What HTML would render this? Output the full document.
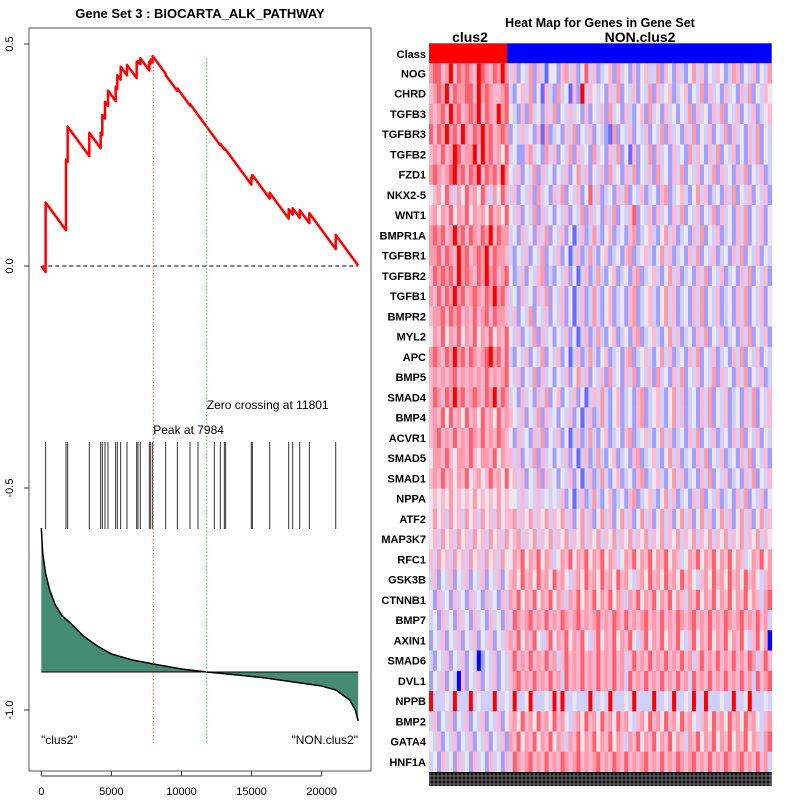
<!DOCTYPE html>
<html><head><meta charset="utf-8"><style>
html,body{margin:0;padding:0;background:#fff;}
svg{display:block;font-family:"Liberation Sans",sans-serif;}
</style></head><body>
<svg id="chart" width="800" height="800" viewBox="0 0 800 800">
<rect x="0" y="0" width="800" height="800" fill="#fff"/>
<text x="200" y="18" text-anchor="middle" font-size="13" font-weight="bold">Gene Set  3 : BIOCARTA_ALK_PATHWAY</text>
<text x="600" y="27" text-anchor="middle" font-size="12.5" font-weight="bold">Heat Map for Genes in Gene Set</text>
<text x="470" y="42" text-anchor="middle" font-size="14" font-weight="bold">clus2</text>
<text x="640" y="42" text-anchor="middle" font-size="14" font-weight="bold">NON.clus2</text>
<g id="left"></g>
<g id="heat"></g>
</svg>
<script>
// ---- enrichment data ----
const hitRanks=[309,1760,1879,3424,4233,4352,4542,4756,5303,5422,5660,6112,6801,6896,7063,7705,7800,7943,8870,9703,10606,11177,12342,12771,13056,13151,14982,15054,16290,17646,17931,18430,19120,20999];
const esAfter=[0.143,0.24,0.314,0.30,0.30,0.34,0.37,0.395,0.404,0.43,0.449,0.453,0.46,0.462,0.468,0.46,0.465,0.473,0.43,0.40,0.365,0.34,0.29,0.275,0.265,0.262,0.20,0.205,0.165,0.128,0.13,0.126,0.119,0.07];
const metricRanks=[0,100,300,600,1000,1500,2000,3000,4000,5000,6500,8000,10000,11801,14000,16000,18000,20000,21000,22000,22400,22600];
const metricVals=[1.44,1.19,0.99,0.82,0.67,0.56,0.50,0.36,0.26,0.18,0.12,0.08,0.03,0,-0.03,-0.06,-0.10,-0.14,-0.18,-0.28,-0.38,-0.49];
const xTicks=[0,5000,10000,15000,20000];
const yTicks=[0.5,0.0,-0.5,-1.0];
const yTickLabels=["0.5","0.0","-0.5","-1.0"];
const peakRank=7984, zeroRank=11801, nGenes=22600, descent=4.3e-5;
// ---- heatmap data ----
const genes=["NOG","CHRD","TGFB3","TGFBR3","TGFB2","FZD1","NKX2-5","WNT1","BMPR1A","TGFBR1","TGFBR2","TGFB1","BMPR2","MYL2","APC","BMP5","SMAD4","BMP4","ACVR1","SMAD5","SMAD1","NPPA","ATF2","MAP3K7","RFC1","GSK3B","CTNNB1","BMP7","AXIN1","SMAD6","DVL1","NPPB","BMP2","GATA4","HNF1A"];
const nClus=20;
const rows=[
"6775685767 6587657686 35243625314 42563524735 23452634252 45336254253 24635243542 36524352436",
"5676857667 7586765567 32453624153 26341528354 34253624352 43625345234 52436253425 34253624354",
"6567586756 7685765867 43252634253 62435342524 35263425324 52634253424 36253425362 43524352345",
"7576867586 5768675676 24353425162 34253624352 43216243524 35243625342 53624352436 25342536243",
"5657568756 6858675647 34225634263 52436253426 34253624152 43625342534 26354253624 35242536243",
"6765678675 7685767586 43524362534 24352463524 35263425362 43526342536 24352436253 42536243523",
"4564753647 5647536475 35243526342 53624352473 52342536243 52342562345 32463523425 36243524352",
"5646574657 4656475647 43524362534 24352436253 42536243572 43525342536 24352436253 42536243524",
"6767568675 7657685766 34253425362 43524135236 32452342562 34532463523 42536243523 42536243524",
"6675765867 5676857665 32435243624 35241352363 24523425623 45324635234 25362435234 25362435243",
"5767675867 6576867567 42352435623 24352413523 63245234256 23453246352 34253624352 34253624352",
"6575768675 6765768675 34253425362 43524135236 32452342562 34532463523 42536243523 42536243524",
"5667576756 5756757665 35243624352 43524135236 32452342562 34532463523 42536243523 42536243524",
"4657465746 5746574657 43524362534 24352413523 63245234256 23453246352 34253624352 34253624352",
"6765768675 7656786757 32435243624 35241352363 24523425623 45324635234 25362435234 25362435243",
"5656567565 6565756567 43524362534 24352463524 35263425362 43526342536 24352436253 42536243523",
"5765768675 6765768576 34253425362 45243524135 36324523425 62345324635 23425362435 23425362435",
"5657475647 5647564756 54352436253 42435241352 36324523425 62345324635 23425362435 23425362435",
"5675657565 7657565765 42534253624 35241352363 24523425623 45324635234 25362435234 25362435243",
"4665754665 7546657465 53524362534 24352413523 63245234256 23453246352 34253624352 34253624352",
"5657564657 4564575647 45352436253 42435241352 36324523425 62345324635 23425362435 23425362435",
"4545464545 4645454645 44353435343 43524135236 32452342562 34532463523 42536243523 42536243524",
"4645364536 4536453645 56354635463 54635246352 46352463524 63524635246 35246352463 52463524635",
"4536453645 3645364536 45635463546 35463546354 63546354635 46354635463 54635463546 35463546354",
"5364536453 6453645364 46574657465 34657465746 57465346574 65746574653 46574657465 74653465746",
"3524352435 2435243524 56475647564 75643564756 47564756435 64756475647 56435647564 75647564356",
"4253425342 5342534253 65746574657 46536574657 46574653657 46574657465 36574657465 74657465367",
"3425342534 2534253425 37656756575 65765675656 75657657565 67565756576 56756575657 65675657563",
"2435243524 3524352435 65746574357 46574657435 74657465743 57465746574 35746574657 46574357460",
"3243524352 4302435243 57565756575 63575657565 75657563575 65756575657 56357565756 57565763575",
"2435243052 4352435243 56756575657 56375657565 75657563756 57565756575 63756575657 56575637567",
"8333438333 8343338334 38334833343 83833433383 34383334383 33383343833 43833833343 38334833343",
"3524352435 2435243524 56475647564 75643564756 47564756435 64756475647 56435647564 75647564356",
"4352435243 5243524352 65746574657 46536574657 46574653657 46574657465 36574657465 74657465367",
"3425342534 2534253425 37656756575 65765675656 75657657565 67565756576 56756575657 65675657563"
];
const palette=["#0000ff","#6a6aff","#a0a0ff","#d0d0fa","#eee6ee","#ffb8d0","#ff9aaa","#ff6070","#ff0000"];

const NS="http://www.w3.org/2000/svg";
function mk(tag,attrs,parent){const e=document.createElementNS(NS,tag);for(const k in attrs)e.setAttribute(k,attrs[k]);parent.appendChild(e);return e;}
const xs=r=>41.3+r*0.01402;
const ys=v=>266-v*444;
const ym=m=>672-m*100;
const L=document.getElementById('left');

let fr=mk('rect',{x:29,y:28,width:342,height:743,fill:'none',stroke:'#555','stroke-width':1},L);



yTicks.forEach((v,i)=>{
  let t=mk('line',{x1:24,x2:29,y1:ys(v),y2:ys(v),stroke:'#333'},L);
  
  
  let tx=mk('text',{x:0,y:0,'font-size':11,'text-anchor':'middle',transform:`translate(13,${ys(v)}) rotate(-90)`},L);
  tx.textContent=yTickLabels[i];
  
  
});
mk('line',{x1:xs(0),x2:xs(20000),y1:776,y2:776,stroke:'#333'},L);
xTicks.forEach(v=>{
  let t=mk('line',{x1:xs(v),x2:xs(v),y1:771,y2:776,stroke:'#333'},L);
  
  
  let tx=mk('text',{x:xs(v),y:795,'font-size':11,'text-anchor':'middle'},L);
  tx.textContent=String(v);
  
  
});

let pts=[[xs(metricRanks[0]),ym(0)]];
metricRanks.forEach((r,i)=>pts.push([xs(r),ym(metricVals[i])]));
pts.push([xs(metricRanks[metricRanks.length-1]),ym(0)]);
let area=mk('polygon',{points:pts.map(p=>p.join(',')).join(' '),fill:'#458b74',stroke:'none'},L);


let mline=mk('polyline',{points:metricRanks.map((r,i)=>xs(r)+','+ym(metricVals[i])).join(' '),fill:'none',stroke:'#000','stroke-width':1.5},L);


let base=mk('line',{x1:xs(0),x2:xs(nGenes),y1:ym(0),y2:ym(0),stroke:'#000','stroke-width':1},L);



hitRanks.forEach(r=>{
  let h=mk('line',{x1:xs(r),x2:xs(r),y1:442,y2:529,stroke:'#333','stroke-width':1},L);
  
  
});

let zl=mk('line',{x1:xs(0),x2:xs(nGenes),y1:ys(0),y2:ys(0),stroke:'#000','stroke-dasharray':'4,3'},L);



let d=[[0,0]];let prevR=0,prevV=0;
hitRanks.forEach((r,i)=>{const before=prevV-descent*(r-prevR);d.push([r,before]);d.push([r,esAfter[i]]);prevR=r;prevV=esAfter[i];});
d.push([nGenes,Math.max(0,prevV-descent*(nGenes-prevR))]);
let es=mk('polyline',{points:d.map(p=>xs(p[0])+','+ys(p[1])).join(' '),fill:'none',stroke:'#ff0000','stroke-width':2.5,'stroke-linejoin':'round'},L);



let pk=mk('line',{x1:xs(peakRank),x2:xs(peakRank),y1:ys(0.473),y2:743,stroke:'#e05050','stroke-dasharray':'1.5,2'},L);


let zc=mk('line',{x1:xs(zeroRank),x2:xs(zeroRank),y1:58,y2:743,stroke:'#22cc22','stroke-dasharray':'1.5,2'},L);



function label(txt,x,y,anchor,name){let t=mk('text',{x:x,y:y,'font-size':12,'text-anchor':anchor},L);t.textContent=txt;

}
label('Zero crossing at 11801',xs(zeroRank),409,'start','zero-crossing-label');
label('Peak at 7984',xs(peakRank),434,'start','peak-label');
label('"clus2"',41,744,'start','clus2-label');
label('"NON.clus2"',358,744,'end','non-clus2-label');

const H=document.getElementById('heat');
const hx0=429,hx1=771.7,nCols=86,cw=(hx1-hx0)/nCols,ry0=63.3,rh=20.25;
let cr=mk('rect',{x:hx0,y:43.3,width:78,height:20,fill:'#ff0000'},H);


let cb=mk('rect',{x:hx0+78,y:43.3,width:hx1-hx0-78,height:20,fill:'#0000ff'},H);


let cl=mk('text',{x:426,y:58,'font-size':11,'font-weight':'bold','text-anchor':'end'},H);cl.textContent='Class';


genes.forEach((g,ri)=>{
  const s=(rows[ri]||'').replace(/ /g,'');
  const y=ry0+ri*rh;
  for(let c=0;c<nCols;c++){
    const lv=c<s.length?+s[c]:4;
    let r=mk('rect',{x:hx0+c*cw,y:y,width:cw+0.4,height:rh+0.3,fill:palette[lv]},H);
    
    
  }
  let t=mk('text',{x:426,y:y+14,'font-size':11,'font-weight':'bold','text-anchor':'end'},H);
  t.textContent=g;
  
  
});
let band=mk('rect',{x:hx0,y:772,width:hx1-hx0,height:14,fill:'#111'},H);


for(let yy=776;yy<786;yy+=4)mk('line',{x1:hx0,x2:hx1,y1:yy,y2:yy,stroke:'#bbb','stroke-width':0.6},H);
for(let xx=hx0+1;xx<hx1;xx+=4)mk('line',{x1:xx,x2:xx,y1:773,y2:786,stroke:'#aaa','stroke-width':0.6},H);
</script>
</body></html>
